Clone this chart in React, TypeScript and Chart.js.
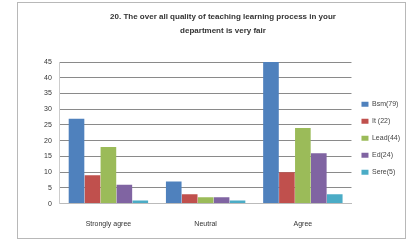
import React, { useEffect, useRef } from "react";
import { Chart, registerables } from "chart.js";

Chart.register(...registerables);

const categories = ["Strongly agree", "Neutral", "Agree"];
const seriesNames = ["Bsm(79)", "It (22)", "Lead(44)", "Ed(24)", "Sere(5)"];
const seriesA = [27, 7, 45];
const seriesB = [9, 3, 10];
const seriesC = [18, 2, 24];
const seriesD = [6, 2, 16];
const seriesE = [1, 1, 3];
const colors = ["#4F81BD", "#C0504D", "#9BBB59", "#8064A2", "#4BACC6"];
const titleLines = [
  "20. The over all quality of teaching learning process in your",
  "department is very fair",
];

const framePlugin = {
  id: "frame",
  beforeDraw(chart: any) {
    const ctx = chart.ctx;
    ctx.save();
    ctx.fillStyle = "#ffffff";
    ctx.fillRect(0, 0, chart.width, chart.height);
    ctx.strokeStyle = "#b8b8b8";
    ctx.lineWidth = 1;
    ctx.strokeRect(17.5, 2.5, 388, 236);
    ctx.restore();
  },
};

export default function App() {
  const ref = useRef<HTMLCanvasElement | null>(null);
  useEffect(() => {
    document.body.style.margin = "0";
    const all = [seriesA, seriesB, seriesC, seriesD, seriesE];
    const chart = new Chart(ref.current as HTMLCanvasElement, {
      type: "bar",
      data: {
        labels: categories,
        datasets: all.map((d, i) => ({
          label: seriesNames[i],
          data: d,
          backgroundColor: colors[i],
          borderWidth: 0,
          categoryPercentage: 0.82,
          barPercentage: 0.98,
        })),
      },
      options: {
        animation: false,
        responsive: false,
        devicePixelRatio: 1,
        layout: { padding: { left: 36, right: 10, top: 4, bottom: 12 } },
        plugins: {
          title: {
            display: true,
            text: titleLines,
            color: "#333",
            font: { family: "Liberation Sans", size: 8, weight: "bold", lineHeight: 1.75 },
            padding: { top: 6, bottom: 24 },
          },
          legend: {
            position: "right",
            title: { display: true, text: " ", padding: { top: 28, bottom: 0 }, font: { size: 7 } },
            labels: {
              boxWidth: 7,
              boxHeight: 5,
              padding: 10,
              color: "#444",
              font: { family: "Liberation Sans", size: 7 },
            },
          },
          tooltip: { enabled: false },
        },
        scales: {
          x: {
            grid: { display: false },
            border: { color: "#bbb" },
            ticks: {
              color: "#333",
              font: { family: "Liberation Sans", size: 7 },
              padding: 8,
            },
          },
          y: {
            min: 0,
            max: 45,
            ticks: {
              stepSize: 5,
              color: "#333",
              font: { family: "Liberation Sans", size: 7 },
              padding: 8,
            },
            grid: { color: "#8a8a8a", drawTicks: false },
            border: { display: true, color: "#ccc" },
          },
        },
      },
      plugins: [framePlugin],
    });
    return () => chart.destroy();
  }, []);
  return (
    <div style={{ position: "absolute", left: 0, top: 0, width: 420, height: 248 }}>
      <canvas ref={ref} width={420} height={248} style={{ width: 420, height: 248 }} />
    </div>
  );
}
